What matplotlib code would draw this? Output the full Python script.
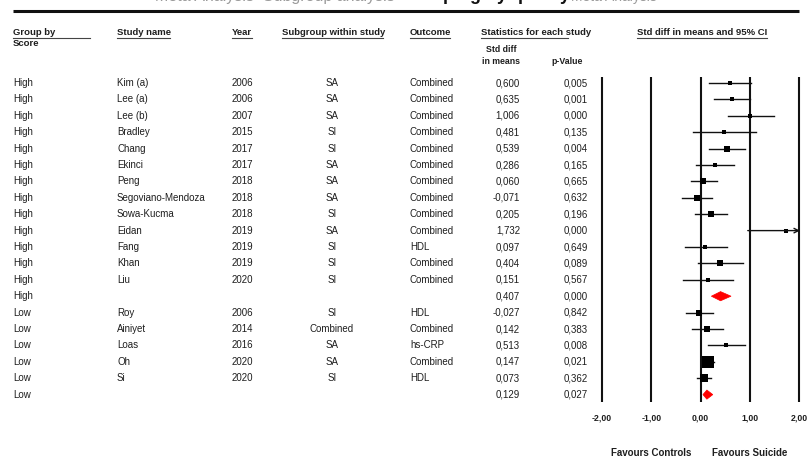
import numpy as np
import matplotlib
matplotlib.use("Agg")
import matplotlib.pyplot as plt
from matplotlib.patches import Polygon

plt.rcParams['font.family'] = ['Liberation Sans', 'DejaVu Sans']

# ---- data -------------------------------------------------------------
groups = ["High"] * 14 + ["Low"] * 6
studies = ["Kim (a)", "Lee (a)", "Lee (b)", "Bradley", "Chang", "Ekinci", "Peng",
           "Segoviano-Mendoza", "Sowa-Kucma", "Eidan", "Fang", "Khan", "Liu", "",
           "Roy", "Ainiyet", "Loas", "Oh", "Si", ""]
years = ["2006", "2006", "2007", "2015", "2017", "2017", "2018", "2018", "2018",
         "2019", "2019", "2019", "2020", "", "2006", "2014", "2016", "2020", "2020", ""]
subgroups = ["SA", "SA", "SA", "SI", "SI", "SA", "SA", "SA", "SI", "SA", "SI", "SI",
             "SI", "", "SI", "Combined", "SA", "SA", "SI", ""]
outcomes = ["Combined", "Combined", "Combined", "Combined", "Combined", "Combined",
            "Combined", "Combined", "Combined", "Combined", "HDL", "Combined",
            "Combined", "", "HDL", "Combined", "hs-CRP", "Combined", "HDL", ""]
smd = [0.600, 0.635, 1.006, 0.481, 0.539, 0.286, 0.060, -0.071, 0.205, 1.732,
       0.097, 0.404, 0.151, 0.407, -0.027, 0.142, 0.513, 0.147, 0.073, 0.129]
pvals = [0.005, 0.001, 0.000, 0.135, 0.004, 0.165, 0.665, 0.632, 0.196, 0.000,
         0.649, 0.089, 0.567, 0.000, 0.842, 0.383, 0.008, 0.021, 0.362, 0.027]
ci_lo = [0.18, 0.27, 0.55, -0.15, 0.18, -0.10, -0.20, -0.37, -0.11, 0.96,
         -0.32, -0.05, -0.35, 0.22, -0.29, -0.17, 0.16, 0.02, -0.07, 0.05]
ci_hi = [1.02, 1.00, 1.49, 1.12, 0.91, 0.69, 0.33, 0.23, 0.54, 2.50,
         0.53, 0.87, 0.66, 0.62, 0.25, 0.46, 0.90, 0.27, 0.22, 0.25]
is_summary = [False] * 13 + [True] + [False] * 5 + [True]
rel_weight = [20, 22, 22, 16, 28, 22, 36, 40, 28, 13, 19, 28, 20, 0,
              40, 25, 22, 121, 64, 0]
axis_ticks = [-2, -1, 0, 1, 2]

headers = [("Group by", 13, 90), ("Study name", 117, 170), ("Year", 232, 252),
           ("Subgroup within study", 282, 383), ("Outcome", 410, 450),
           ("Statistics for each study", 481, 568),
           ("Std diff in means and 95% CI", 637, 767)]

# ---- layout -----------------------------------------------------------
W, H = 807, 459
row0, row_h = 83.0, 16.4          # pixel position of first row and row pitch
fig = plt.figure(figsize=(W / 100, H / 100), dpi=100)

ytop = -row0 / row_h
ybot = (H - row0) / row_h

tab = fig.add_axes([0, 0, 1, 1])
tab.set_xlim(0, W)
tab.set_ylim(ybot, ytop)
tab.axis("off")

def py(p):
    """pixel y -> row units"""
    return (p - row0) / row_h

txt_col = "#1e1e1e"
fs = 7

# page title running off the top edge
tb = 1 - 0.5 / H
fig.text(395 / W, tb, "Meta Analysis  Subgroup analysis", fontsize=11.5,
         color="#9a9a9a", ha="right", va="baseline")
fig.text(400 / W, tb, "Grouping by quality", fontsize=13, fontweight="bold",
         color="#111111", ha="left", va="baseline")
fig.text(571 / W, tb, "Meta Analysis", fontsize=10,
         color="#9a9a9a", ha="left", va="baseline")

# rule under title
tab.plot([13, 799], [py(10.5), py(10.5)], color="#111111", lw=2.2,
         solid_capstyle="butt")

# column headers with underlines
for label, x0, x1 in headers:
    tab.text(x0, py(32.5), label, fontsize=6.8, fontweight="bold", color=txt_col,
             ha="left", va="center")
    tab.plot([x0, x1], [py(38), py(38)], color="#444444", lw=0.8)
tab.text(13, py(43.5), "Score", fontsize=6.8, fontweight="bold", color=txt_col,
         ha="left", va="center")
tab.text(501, py(50), "Std diff", fontsize=6.3, fontweight="bold", color=txt_col,
         ha="center", va="center")
tab.text(501, py(61.5), "in means", fontsize=6.3, fontweight="bold", color=txt_col,
         ha="center", va="center")
tab.text(567, py(61.5), "p-Value", fontsize=6.3, fontweight="bold", color=txt_col,
         ha="center", va="center")

def fmt(v):
    return f"{v:.3f}".replace(".", ",")

for i in range(len(groups)):
    kw = dict(fontsize=fs, color=txt_col, va="center")
    tab.text(13, i, groups[i], ha="left", **kw)
    tab.text(117, i, studies[i], ha="left", **kw)
    tab.text(232, i, years[i], ha="left", **kw)
    tab.text(332, i, subgroups[i], ha="center", **kw)
    tab.text(410, i, outcomes[i], ha="left", **kw)
    tab.text(520, i, fmt(smd[i]), ha="right", **kw)
    tab.text(588, i, fmt(pvals[i]), ha="right", **kw)

# ---- forest panel -----------------------------------------------------
fx0, fx1 = 602, 799
fa = fig.add_axes([fx0 / W, 0, (fx1 - fx0) / W, 1])
fa.set_xlim(-2, 2)
fa.set_ylim(ybot, ytop)
fa.axis("off")

for t in axis_ticks:
    fa.plot([t, t], [py(77), py(402)], color="#111111", lw=1.5,
            solid_capstyle="butt", clip_on=False)
    fa.text(t, py(418), f"{t:.2f}".replace(".", ","), fontsize=6.3,
            fontweight="bold", color=txt_col, ha="center", va="center",
            clip_on=False)

for i in range(len(smd)):
    if is_summary[i]:
        h = 0.28
        fa.add_patch(Polygon([[ci_lo[i], i], [smd[i], i - h], [ci_hi[i], i],
                              [smd[i], i + h]], closed=True,
                             facecolor="#ff0000", edgecolor="#ff0000", lw=0.5))
        continue
    hi = min(ci_hi[i], 2.0)
    if ci_hi[i] > 2.0:
        fa.annotate("", xy=(2.02, i), xytext=(ci_lo[i], i),
                    arrowprops=dict(arrowstyle="->", color="#111111", lw=1.0,
                                    shrinkA=0, shrinkB=0, mutation_scale=8),
                    annotation_clip=False)
    else:
        fa.plot([ci_lo[i], hi], [i, i], color="#111111", lw=1.0)
    fa.plot(smd[i], i, marker="s", color="#000000",
            markersize=np.sqrt(rel_weight[i]) * 0.75, mew=0)

fa.text(-1, py(453), "Favours Controls", fontsize=7, fontweight="bold",
        color=txt_col, ha="center", va="center", clip_on=False)
fa.text(1, py(453), "Favours Suicide", fontsize=7, fontweight="bold",
        color=txt_col, ha="center", va="center", clip_on=False)

fig.savefig("out.png", dpi=100, facecolor="white")
